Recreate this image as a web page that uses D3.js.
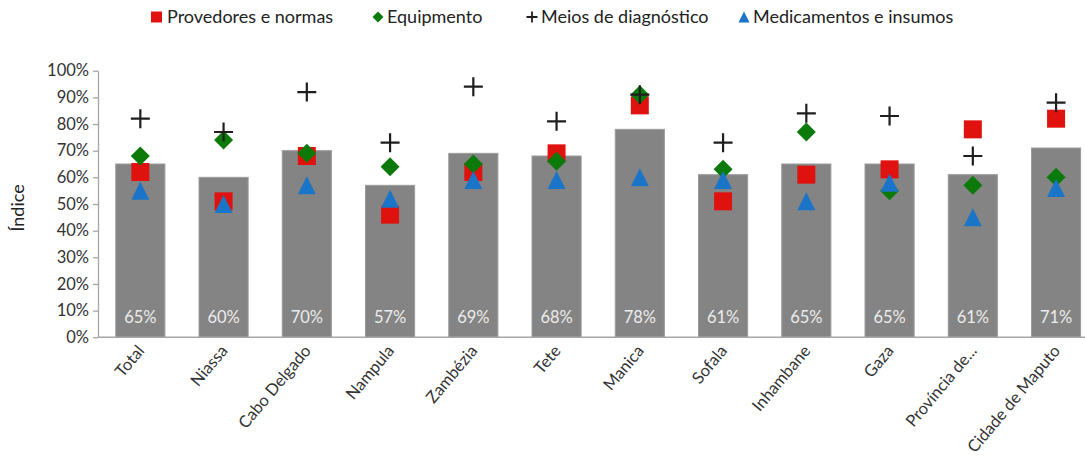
<!DOCTYPE html>
<html>
<head>
<meta charset="utf-8">
<script src="https://cdn.jsdelivr.net/npm/d3@7"></script>
<style>
  html, body { margin: 0; padding: 0; background: #fff; }
  svg { display: block; }
  text { font-family: Lato, "Open Sans", sans-serif; }
</style>
</head>
<body>
<svg id="chart" width="1085" height="466"></svg>
<script>
const categories = ["Total","Niassa","Cabo Delgado","Nampula","Zambézia","Tete","Manica","Sofala","Inhambane","Gaza","Província de...","Cidade de Maputo"];
const indice       = [65,60,70,57,69,68,78,61,65,65,61,71];
const provedores   = [62,51,68,46,62,69,87,51,61,63,78,82];
const equipamento  = [68,74,69,64,65,66,91,63,77,55,57,60];
const meios        = [82,77,92,73,94,81,91,73,84,83,68,88];
const medicamentos = [55,50,57,52,59,59,60,59,51,58,45,56];
const yTicks = [0,10,20,30,40,50,60,70,80,90,100];
const seriesNames = ["Provedores e normas","Equipmento","Meios de diagnóstico","Medicamentos e insumos"];

const svg = d3.select("#chart");
const x = d3.scaleBand().domain(categories).range([98.7, 1097.7]).paddingInner(0.41).paddingOuter(0.205);
const y = d3.scaleLinear().domain([0, 100]).range([337.3, 70.7]);

// marker shapes
function squarePath(s){ const h=s/2; return `M${-h},${-h}H${h}V${h}H${-h}Z`; }
function diamondPath(s){ const h=s/2; return `M0,${-h}L${h},0L0,${h}L${-h},0Z`; }
function trianglePath(s){ const h=s/2; return `M0,${-h}L${h},${h}L${-h},${h}Z`; }
function plusPath(s){ const h=s/2; return `M${-h},0H${h}M0,${-h}V${h}`; }

const series = [
  {name: seriesNames[0], values: provedores,   path: squarePath(18),  fill: "#e0120f", stroke: "none", sw: 0},
  {name: seriesNames[1], values: equipamento,  path: diamondPath(19), fill: "#0b7a0b", stroke: "none", sw: 0},
  {name: seriesNames[2], values: meios,        path: plusPath(19),    fill: "none",    stroke: "#1e1e1e", sw: 2.2},
  {name: seriesNames[3], values: medicamentos, path: trianglePath(18),fill: "#1a74c8", stroke: "none", sw: 0}
];

// axes
const yAxis = d3.axisLeft(y).tickValues(yTicks).tickFormat(d => d + "%").tickSize(5).tickSizeOuter(0);
const gy = svg.append("g").attr("transform", "translate(98,0)").call(yAxis);
gy.select(".domain").attr("stroke", "#a6a6a6").attr("stroke-width", 1.3);
gy.selectAll(".tick line").attr("stroke", "#a6a6a6").attr("stroke-width", 1.3);
gy.selectAll(".tick text").attr("x", -9).attr("fill", "#333").attr("font-size", 16.5).attr("font-family", "Lato, sans-serif");

// bars
svg.append("g").selectAll("rect").data(categories).join("rect")
  .attr("x", d => x(d))
  .attr("y", (d,i) => y(indice[i]))
  .attr("width", x.bandwidth())
  .attr("height", (d,i) => y(0) - y(indice[i]))
  .attr("fill", "#848484")
  .attr("stroke", "#9a9a9a")
  .attr("stroke-width", 1);

// bar labels
svg.append("g").selectAll("text").data(categories).join("text")
  .attr("x", d => x(d) + x.bandwidth()/2)
  .attr("y", 323)
  .attr("text-anchor", "middle")
  .attr("fill", "#ececec")
  .attr("font-size", 16.5)
  .text((d,i) => indice[i] + "%");

// x axis
const xAxis = d3.axisBottom(x).tickSize(0).tickSizeOuter(0);
const gx = svg.append("g").attr("transform", "translate(0,337.3)").call(xAxis);
gx.select(".domain").remove();
svg.append("line").attr("x1", 98).attr("x2", 1085).attr("y1", y(0)).attr("y2", y(0))
  .attr("stroke", "#a6a6a6").attr("stroke-width", 1.5);
gx.selectAll(".tick text")
  .attr("text-anchor", "end")
  .attr("fill", "#333")
  .attr("font-size", 16.5)
  .attr("dy", 0)
  .attr("transform", "translate(5,14) rotate(-50)")
  .attr("y", 0).attr("x", 0);

// markers
series.forEach(s => {
  svg.append("g").selectAll("path").data(categories).join("path")
    .attr("d", s.path)
    .attr("transform", (d,i) => `translate(${x(d) + x.bandwidth()/2},${y(s.values[i])})`)
    .attr("fill", s.fill)
    .attr("stroke", s.stroke)
    .attr("stroke-width", s.sw);
});

// y title
svg.append("text")
  .attr("transform", "translate(24,208) rotate(-90)")
  .attr("text-anchor", "middle")
  .attr("fill", "#222")
  .attr("font-size", 18)
  .text("Índice");

// legend
const legendPos = [
  {mx: 156.5, tx: 167},
  {mx: 378, tx: 387},
  {mx: 532, tx: 541},
  {mx: 744, tx: 753}
];
const lg = svg.append("g");
series.forEach((s, i) => {
  const p = legendPos[i];
  const pathFn = [squarePath, diamondPath, plusPath, trianglePath][i];
  lg.append("path")
    .attr("d", pathFn(11))
    .attr("transform", `translate(${p.mx},17)`)
    .attr("fill", s.fill)
    .attr("stroke", s.stroke)
    .attr("stroke-width", s.sw ? 1.8 : 0);
  lg.append("text")
    .attr("x", p.tx).attr("y", 23)
    .attr("fill", "#222")
    .attr("font-size", 18)
    .text(s.name);
});
</script>
</body>
</html>
